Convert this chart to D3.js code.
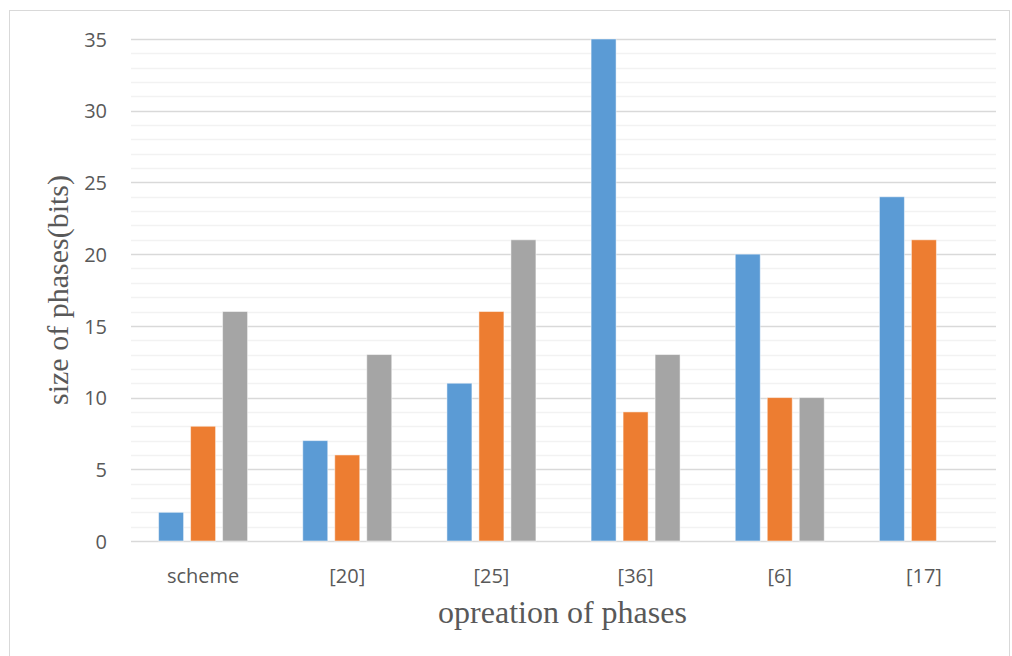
<!DOCTYPE html>
<html><head><meta charset="utf-8">
<script src="https://cdn.jsdelivr.net/npm/d3@7"></script>
<style>body{margin:0;background:#fff}</style>
</head><body>
<script>
const categories = ["scheme","[20]","[25]","[36]","[6]","[17]"];
const series1 = [2,7,11,35,20,24];
const series2 = [8,6,16,9,10,21];
const series3 = [16,13,21,13,10,null];
const colors = ["#5b9bd5","#ed7d31","#a5a5a5"];
const yTicks = [0,5,10,15,20,25,30,35];
const minorTicks = d3.range(0,36,1);

(function(){
const W=1012,H=656;
const svg=d3.select("body").append("svg").attr("width",W).attr("height",H);
svg.append("rect").attr("x",9.5).attr("y",10.5).attr("width",1000).attr("height",660)
  .attr("fill","#fff").attr("stroke","#d9d9d9");

const pl=131,pr=996,pt=39,pb=541;
const x=d3.scaleBand().domain(categories).range([pl,pr]).padding(0);
const y=d3.scaleLinear().domain([0,35]).range([pb,pt]);
const series=[series1,series2,series3];
const inner=d3.scaleBand().domain([0,1,2]).range([0,89]).paddingInner(7/32).paddingOuter(0);

const g=svg.append("g");
g.selectAll(".minor").data(minorTicks.filter(d=>d%5!==0)).enter().append("line")
  .attr("x1",pl).attr("x2",pr).attr("y1",d=>Math.round(y(d))+0.5).attr("y2",d=>Math.round(y(d))+0.5)
  .attr("stroke","#f2f2f2").attr("stroke-width",1.5);
g.selectAll(".major").data(yTicks).enter().append("line")
  .attr("x1",pl).attr("x2",pr).attr("y1",d=>Math.round(y(d))+0.5).attr("y2",d=>Math.round(y(d))+0.5)
  .attr("stroke","#d9d9d9").attr("stroke-width",1.5);

const yAxis=d3.axisLeft(y).tickValues(yTicks).tickSize(0).tickPadding(0);
const ya=svg.append("g").attr("transform",`translate(107,0)`).call(yAxis);
ya.select(".domain").remove();
ya.selectAll("text").attr("font-family","'Open Sans', 'Liberation Sans', sans-serif").attr("font-size",20).attr("fill","#595959").attr("dy","0.36em");

const xAxis=d3.axisBottom(x).tickSize(0).tickPadding(0);
const xa=svg.append("g").attr("transform",`translate(0,583)`).call(xAxis);
xa.select(".domain").remove();
xa.selectAll("text").attr("font-family","'Open Sans', 'Liberation Sans', sans-serif").attr("font-size",20).attr("fill","#595959").attr("dy",0);

series.forEach((s,i)=>{
  svg.append("g").selectAll("rect").data(categories.map((c,j)=>({c,v:s[j]})).filter(d=>d.v!=null))
    .enter().append("rect")
    .attr("x",d=>x(d.c)+(x.bandwidth()-89)/2+inner(i))
    .attr("width",inner.bandwidth())
    .attr("y",d=>y(d.v)).attr("height",d=>y(0)-y(d.v))
    .attr("fill",colors[i]).attr("stroke","#ffffff").attr("stroke-opacity",0.5).attr("stroke-width",1);
});

svg.append("text").attr("x",562.5).attr("y",623).attr("text-anchor","middle")
  .attr("font-family","'Liberation Serif', 'Times New Roman', serif").attr("font-size",32).attr("fill","#595959")
  .text("opreation of phases");
svg.append("text").attr("transform",`translate(68,290) rotate(-90)`).attr("text-anchor","middle")
  .attr("font-family","'Liberation Serif', 'Times New Roman', serif").attr("font-size",30).attr("fill","#595959")
  .text("size of phases(bits)");
})();
</script>
</body></html>
